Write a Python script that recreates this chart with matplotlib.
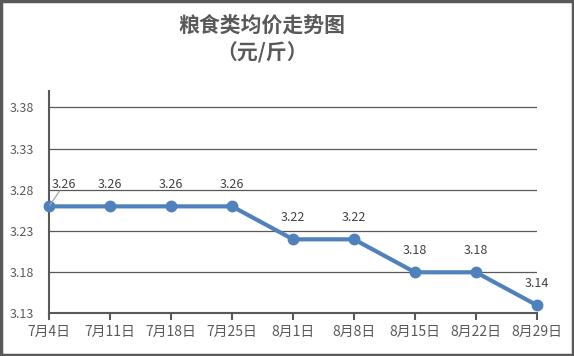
import matplotlib
matplotlib.use("Agg")
import matplotlib.pyplot as plt
from matplotlib.patches import Rectangle

plt.rcParams['font.family'] = ['Noto Sans CJK SC', 'DejaVu Sans']

categories = ['7月4日', '7月11日', '7月18日', '7月25日', '8月1日', '8月8日', '8月15日', '8月22日', '8月29日']
values = [3.26, 3.26, 3.26, 3.26, 3.22, 3.22, 3.18, 3.18, 3.14]
yticks = [3.13, 3.18, 3.23, 3.28, 3.33, 3.38]
title = '粮食类均价走势图'
subtitle = '（元/斤）'

gray = '#595959'
blue = '#4F81BD'

fig = plt.figure(figsize=(5.74, 3.56), dpi=100)
ax = fig.add_axes([0.0854, 0.1194, 0.8501, 0.625])

x = list(range(len(categories)))
ax.plot(x, values, color=blue, lw=3, marker='o', ms=7.5, zorder=3, clip_on=False)

ax.set_xlim(0, len(categories) - 1)
ax.set_ylim(3.13, 3.40)
ax.set_yticks(yticks)
ax.set_yticklabels([f'{v:.2f}' for v in yticks])
ax.set_xticks(x)
ax.set_xticklabels(categories)
for yv in yticks[1:]:
    ax.axhline(yv, color=gray, lw=0.9, zorder=1)

for s in ['top', 'right']:
    ax.spines[s].set_visible(False)
for s in ['left', 'bottom']:
    ax.spines[s].set_color(gray)
    ax.spines[s].set_linewidth(1.5)
ax.tick_params(axis='y', length=0, labelsize=9, labelcolor=gray, pad=11)
ax.tick_params(axis='x', length=5, width=1.5, color=gray, labelsize=10, labelcolor=gray, pad=3, direction='out')

for i, v in enumerate(values):
    if i == 0:
        ax.annotate(f'{v:.2f}', xy=(i, v), xytext=(11, 16), textcoords='offset points',
                    ha='center', va='center', fontsize=9, color='#404040',
                    arrowprops=dict(arrowstyle='-', color='#A6A6A6', lw=0.9, patchA=None,
                                    shrinkA=6, shrinkB=1))
    else:
        ax.annotate(f'{v:.2f}', xy=(i, v), xytext=(0, 16), textcoords='offset points',
                    ha='center', va='center', fontsize=9, color='#404040')

fig.text(0.4564, 0.925, title, ha='center', va='center', fontsize=15, fontweight='bold', color=gray)
fig.text(0.4564, 0.852, subtitle, ha='center', va='center', fontsize=15, fontweight='bold', color=gray)

fig.patches.append(Rectangle((0.002, 0.003), 0.996, 0.994, transform=fig.transFigure,
                             fill=False, edgecolor=gray, lw=2.5))

fig.savefig('out.png', dpi=100)
